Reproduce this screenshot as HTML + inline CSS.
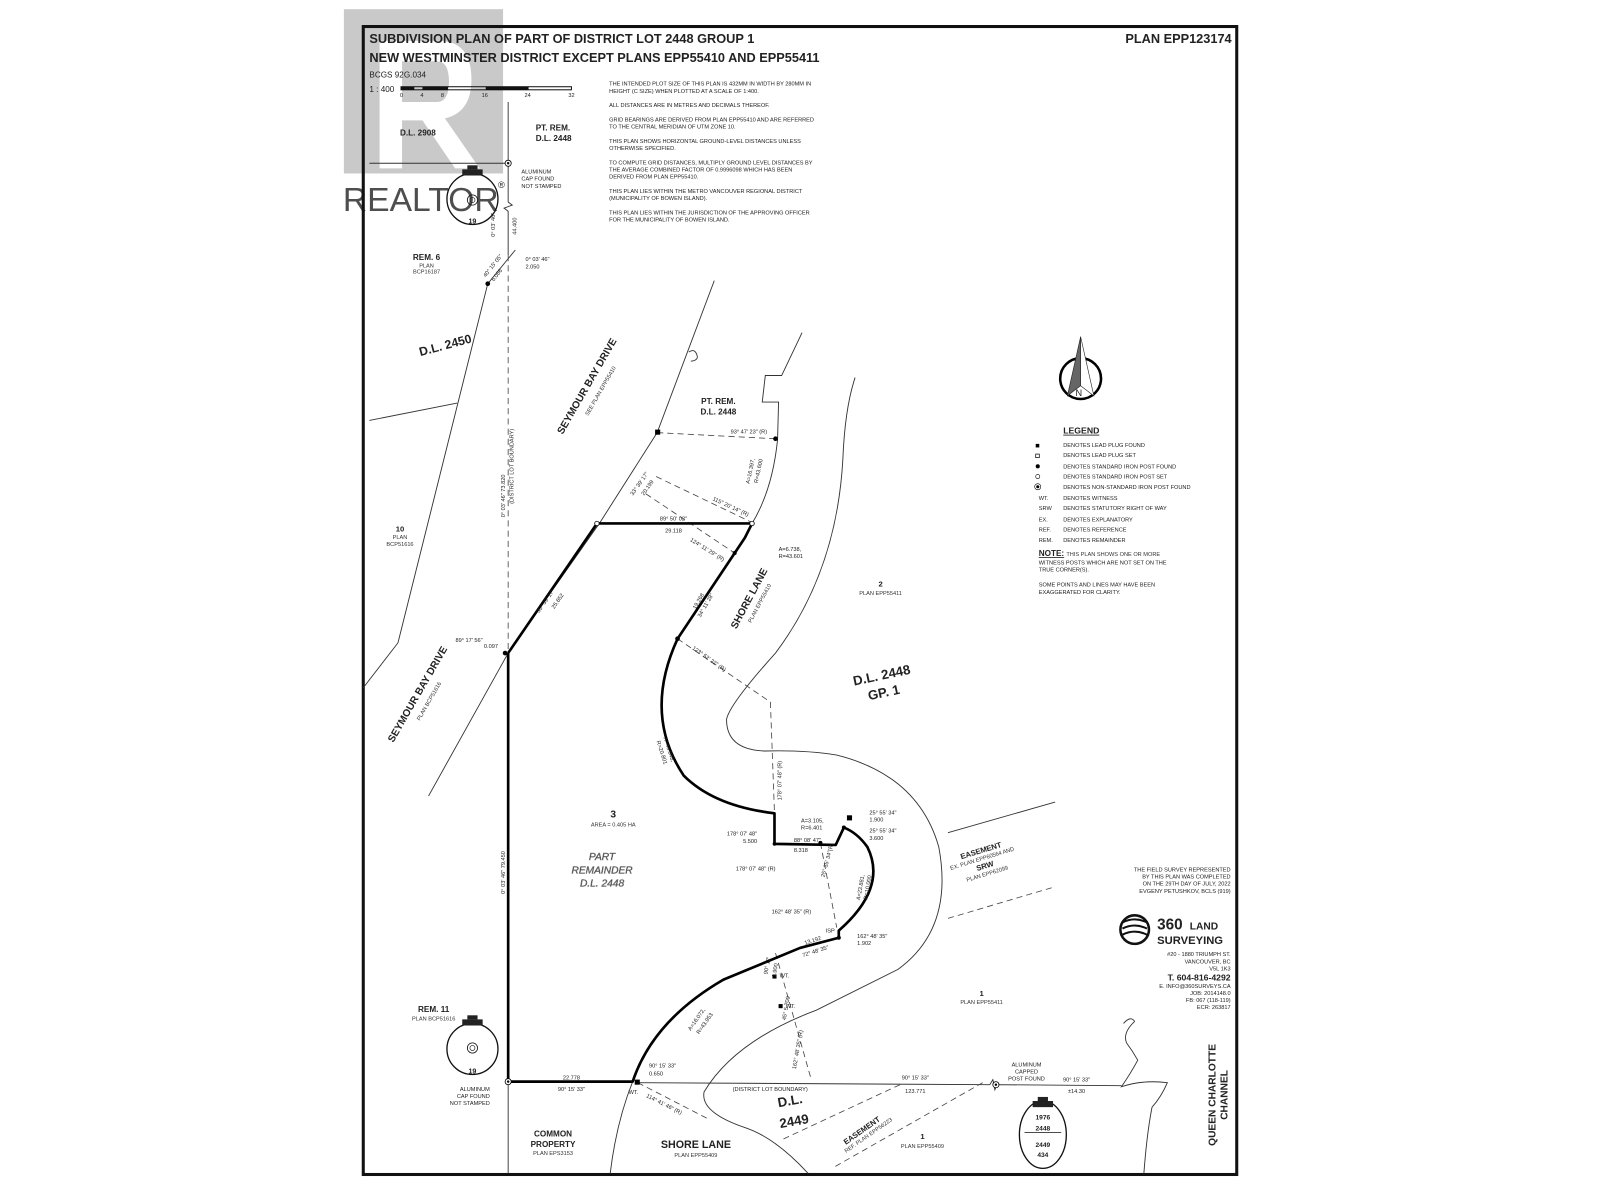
<!DOCTYPE html>
<html><head><meta charset="utf-8"><style>
html,body{margin:0;padding:0;background:#fff;}
svg{display:block;}
text{font-family:"Liberation Sans",sans-serif;fill:#222;}
.s{font-size:5.5px;fill:#333;}
.m{font-size:6.5px;fill:#333;}
.b{font-weight:bold;}
</style></head><body>
<svg width="1600" height="1200" viewBox="0 0 1568 1176" xmlns="http://www.w3.org/2000/svg">
<rect width="1568" height="1176" fill="#fff"/>
<!-- watermark -->
<g opacity="0.45">
<rect x="337" y="9" width="156" height="161" fill="#8a8a8a"/>
<path d="M372 40 H430 Q462 40 462 78 Q462 110 436 116 L470 165 H446 L414 118 H394 V165 H372 Z M394 60 V100 H428 Q440 100 440 80 Q440 60 428 60 Z" fill="#fff"/>
</g>
<text x="336" y="207" font-size="33" fill="#9a9a9a" opacity="0.8">REALTOR</text>
<text x="488" y="184" font-size="9" fill="#9a9a9a">®</text>

<!-- frame -->
<rect x="356" y="26" width="856" height="1125" fill="none" stroke="#111" stroke-width="3"/>
<text x="362" y="42" font-size="12.5" class="b">SUBDIVISION PLAN OF PART OF DISTRICT LOT 2448 GROUP 1</text>
<text x="362" y="61" font-size="12.5" class="b">NEW WESTMINSTER DISTRICT EXCEPT PLANS EPP55410 AND EPP55411</text>
<text x="1207" y="42" font-size="12.5" class="b" text-anchor="end">PLAN EPP123174</text>
<text x="362" y="76" font-size="8" fill="#555">BCGS 92G.034</text>
<text x="362" y="90" font-size="8" fill="#555">1 : 400</text>
<g stroke="#111" fill="none">
<rect x="393" y="85" width="167" height="3" stroke-width="1"/>
<path d="M393 86.5H406M414 86.5H439M476 86.5H518" stroke-width="3"/>
</g>
<g class="s" font-size="5">
<text x="392" y="95">0</text><text x="412" y="95">4</text><text x="432" y="95">8</text><text x="472" y="95">16</text><text x="514" y="95">24</text><text x="557" y="95">32</text>
</g>
<g class="s">
<text x="597" y="84">THE INTENDED PLOT SIZE OF THIS PLAN IS 432MM IN WIDTH BY 280MM IN</text>
<text x="597" y="91">HEIGHT (C SIZE) WHEN PLOTTED AT A SCALE OF 1:400.</text>
<text x="597" y="105">ALL DISTANCES ARE IN METRES AND DECIMALS THEREOF.</text>
<text x="597" y="119">GRID BEARINGS ARE DERIVED FROM PLAN EPP55410 AND ARE REFERRED</text>
<text x="597" y="126">TO THE CENTRAL MERIDIAN OF UTM ZONE 10.</text>
<text x="597" y="140">THIS PLAN SHOWS HORIZONTAL GROUND-LEVEL DISTANCES UNLESS</text>
<text x="597" y="147">OTHERWISE SPECIFIED.</text>
<text x="597" y="161">TO COMPUTE GRID DISTANCES, MULTIPLY GROUND LEVEL DISTANCES BY</text>
<text x="597" y="168">THE AVERAGE COMBINED FACTOR OF 0.9996098 WHICH HAS BEEN</text>
<text x="597" y="175">DERIVED FROM PLAN EPP55410.</text>
<text x="597" y="189">THIS PLAN LIES WITHIN THE METRO VANCOUVER REGIONAL DISTRICT</text>
<text x="597" y="196">(MUNICIPALITY OF BOWEN ISLAND).</text>
<text x="597" y="210">THIS PLAN LIES WITHIN THE JURISDICTION OF THE APPROVING OFFICER</text>
<text x="597" y="217">FOR THE MUNICIPALITY OF BOWEN ISLAND.</text>
</g>

<!-- thin lines -->
<g fill="none" stroke="#333" stroke-width="0.9">
<path d="M362 160H498"/>
<path d="M498 100V198 l4 3 -8 3 4 3 V250"/>
<path d="M505 245 L478 278 L390 630 L356 674"/>
<path d="M362 412 L448 395"/>
<path d="M700 275 L644 424 L588 512 L498 640 L420 780"/>
<path d="M675 345 q6 -4 8 3 q2 5 -6 6"/>
<path d="M786 326 L766 368 L750 368 L747 394 L763 394 L762 431 Q757 480 737 513"/>
<path d="M838 370 Q828 400 826 450 Q820 560 760 640 Q715 690 712 705 Q712 735 750 736 Q790 735 820 740 Q900 760 920 830 Q935 910 880 950 Q830 975 800 990 Q720 1020 690 1070 Q686 1090 730 1105 Q760 1115 792 1150"/>
<path d="M929 816 L1034 786"/>
<path d="M620 1060 Q604 1100 598 1150"/>
<path d="M625 1061 L970 1063 l3 -5 l2 10 l2 -5 L1099 1064"/>
<path d="M498 1060 V1150"/>
<path d="M1112 1001 Q1100 1012 1104 1022 Q1110 1030 1115 1039 Q1108 1052 1099 1065 Q1120 1058 1144 1061 Q1138 1075 1129 1085 Q1124 1110 1121 1150"/>
<path d="M1101 1003 Q1108 995 1112 1001"/>
</g>
<!-- dashed -->
<g fill="none" stroke="#444" stroke-width="0.8" stroke-dasharray="6 4">
<path d="M498 250 V640"/>
<path d="M644 424 L760 430"/>
<path d="M643 467 L737 512"/>
<path d="M633 484 L720 542"/>
<path d="M664 626 L755 688 L759 797"/>
<path d="M804 826 L820 909"/>
<path d="M760 934 L795 1058"/>
<path d="M625 1061 L693 1096"/>
<path d="M882 1063 L766 1117"/>
<path d="M963 1061 L817 1144"/>
<path d="M929 900 L1034 869"/>
</g>
<!-- thick boundary -->
<g fill="none" stroke="#000" stroke-width="2.6" stroke-linejoin="round">
<path d="M498 640 V1060 H620 Q640 1000 709 960 L784 929 L822 919 L822 912 Q870 870 850 830 Q840 816 827 811 L819 828 L759 827 L759 797 Q700 790 670 760 Q630 700 664 626 L730 527 L737 513 H585 L498 640"/>
</g>
<!-- markers -->
<g fill="#000">
<circle cx="478" cy="278" r="2.3"/><circle cx="760" cy="430" r="2.3"/><circle cx="664" cy="626" r="2.3"/>
<circle cx="720" cy="542" r="2"/><circle cx="495" cy="640" r="2.3"/><circle cx="804" cy="826" r="2"/>
<circle cx="827" cy="811" r="2"/><circle cx="822" cy="919" r="2"/><circle cx="759" cy="827" r="1.8"/>
<rect x="642" y="421" width="5" height="5"/><rect x="830" y="799" width="5" height="5"/>
<rect x="622" y="1058" width="5" height="5"/><rect x="757" y="955" width="4" height="4"/><rect x="763" y="984" width="4" height="4"/>
</g>
<circle cx="498" cy="160" r="3" fill="#fff" stroke="#000" stroke-width="0.8"/><circle cx="498" cy="160" r="1.2"/>
<circle cx="498" cy="1060" r="3" fill="#fff" stroke="#000" stroke-width="0.8"/><circle cx="498" cy="1060" r="1.2"/>
<circle cx="976" cy="1063" r="3" fill="#fff" stroke="#000" stroke-width="0.8"/><circle cx="976" cy="1063" r="1.2"/>
<circle cx="585" cy="513" r="2.2" fill="#fff" stroke="#000" stroke-width="0.8"/>
<circle cx="737" cy="513" r="2.2" fill="#fff" stroke="#000" stroke-width="0.8"/>

<!-- monuments -->
<g fill="none" stroke="#111" stroke-width="1.3">
<circle cx="463" cy="195" r="25"/><circle cx="463" cy="196" r="5" stroke-width="0.8"/><circle cx="463" cy="196" r="2.5" stroke-width="0.6"/>
<circle cx="463" cy="1028" r="25"/><circle cx="463" cy="1027" r="5" stroke-width="0.8"/><circle cx="463" cy="1027" r="2.5" stroke-width="0.6"/>
<ellipse cx="1022" cy="1112" rx="23" ry="33"/>
<path d="M1004 1110 H1040" stroke-width="0.8"/>
</g>
<g fill="#222">
<rect x="453" y="166" width="20" height="6"/><rect x="458" y="162" width="10" height="4"/>
<rect x="453" y="999" width="20" height="6"/><rect x="458" y="995" width="10" height="4"/>
<rect x="1012" y="1079" width="20" height="6"/><rect x="1017" y="1075" width="10" height="4"/>
</g>
<text x="463" y="219" font-size="7" class="b" text-anchor="middle">19</text>
<text x="463" y="1052" font-size="7" class="b" text-anchor="middle">19</text>
<g font-size="6.5" class="b" text-anchor="middle"><text x="1022" y="1097">1976</text><text x="1022" y="1108">2448</text><text x="1022" y="1124">2449</text><text x="1022" y="1134">434</text></g>

<!-- north arrow -->
<circle cx="1059" cy="371" r="20" fill="none" stroke="#000" stroke-width="2.5"/>
<path d="M1059 330 L1046 388 L1059 378 Z" fill="#666" stroke="#222" stroke-width="0.6"/>
<path d="M1059 330 L1072 388 L1059 378 Z" fill="#fff" stroke="#222" stroke-width="0.6"/>
<text x="1054" y="388" font-size="9" fill="#444">N</text>

<!-- legend -->
<text x="1042" y="425" font-size="8.5" class="b" text-decoration="underline">LEGEND</text>
<rect x="1015" y="435" width="3.5" height="3.5" fill="#000"/>
<rect x="1015" y="445" width="3.5" height="3.5" fill="none" stroke="#000" stroke-width="0.7"/>
<circle cx="1017" cy="457" r="2" fill="#000"/>
<circle cx="1017" cy="467" r="2" fill="none" stroke="#000" stroke-width="0.6"/>
<circle cx="1017" cy="477" r="3" fill="none" stroke="#000" stroke-width="0.6"/><circle cx="1017" cy="477" r="1.5"/>
<g class="s">
<text x="1042" y="438">DENOTES LEAD PLUG FOUND</text>
<text x="1042" y="448">DENOTES LEAD PLUG SET</text>
<text x="1042" y="459">DENOTES STANDARD IRON POST FOUND</text>
<text x="1042" y="469">DENOTES STANDARD IRON POST SET</text>
<text x="1042" y="479">DENOTES NON-STANDARD IRON POST FOUND</text>
<text x="1018" y="490">WT.</text><text x="1042" y="490">DENOTES WITNESS</text>
<text x="1018" y="500">SRW</text><text x="1042" y="500">DENOTES STATUTORY RIGHT OF WAY</text>
<text x="1018" y="511">EX.</text><text x="1042" y="511">DENOTES EXPLANATORY</text>
<text x="1018" y="521">REF.</text><text x="1042" y="521">DENOTES REFERENCE</text>
<text x="1018" y="531">REM.</text><text x="1042" y="531">DENOTES REMAINDER</text>
<text x="1018" y="553">WITNESS POSTS WHICH ARE NOT SET ON THE</text>
<text x="1018" y="560">TRUE CORNER(S).</text>
<text x="1018" y="575">SOME POINTS AND LINES MAY HAVE BEEN</text>
<text x="1018" y="582">EXAGGERATED FOR CLARITY.</text>
</g>
<text x="1018" y="545" font-size="8" class="b" text-decoration="underline">NOTE:</text>
<text x="1045" y="545" class="s">THIS PLAN SHOWS ONE OR MORE</text>

<!-- surveyor block -->
<g class="s" text-anchor="end">
<text x="1206" y="854">THE FIELD SURVEY REPRESENTED</text>
<text x="1206" y="861">BY THIS PLAN WAS COMPLETED</text>
<text x="1206" y="868">ON THE 29TH DAY OF JULY, 2022</text>
<text x="1206" y="875">EVGENY PETUSHKOV, BCLS (919)</text>
<text x="1206" y="937">#20 - 1880 TRIUMPH ST.</text>
<text x="1206" y="944">VANCOUVER, BC</text>
<text x="1206" y="951">V5L 1K3</text>
<text x="1206" y="968">E. INFO@360SURVEYS.CA</text>
<text x="1206" y="975">JOB: 2014148.0</text>
<text x="1206" y="982">FB: 067 (118-119)</text>
<text x="1206" y="989">ECR: 263817</text>
</g>
<text x="1206" y="961" font-size="8.5" class="b" text-anchor="end">T. 604-816-4292</text>
<g>
<circle cx="1112" cy="911" r="14" fill="none" stroke="#111" stroke-width="2.5"/>
<path d="M1100 910 q12 -6 24 0 M1100 916 q12 -6 24 0 M1100 904 q12 -6 24 0" stroke="#111" stroke-width="2" fill="none"/>
<text x="1134" y="911" font-size="15" class="b">360</text>
<text x="1166" y="911" font-size="10" class="b">LAND</text>
<text x="1134" y="925" font-size="11" class="b">SURVEYING</text>
</g>

<!-- big labels -->
<text x="525" y="128" font-size="8" class="b">PT. REM.</text>
<text x="525" y="138" font-size="8" class="b">D.L. 2448</text>
<text x="392" y="133" font-size="8" class="b">D.L. 2908</text>
<g class="s"><text x="511" y="170">ALUMINUM</text><text x="511" y="177">CAP FOUND</text><text x="511" y="184">NOT STAMPED</text></g>
<text x="418" y="255" font-size="8" class="b" text-anchor="middle">REM. 6</text>
<text x="418" y="262" class="s" text-anchor="middle">PLAN</text>
<text x="418" y="268" class="s" text-anchor="middle">BCP16187</text>
<text x="412" y="349" font-size="12" class="b" transform="rotate(-15 412 349)">D.L. 2450</text>
<text x="392" y="521" font-size="7.5" class="b" text-anchor="middle">10</text>
<text x="392" y="528" class="s" text-anchor="middle">PLAN</text>
<text x="392" y="535" class="s" text-anchor="middle">BCP51616</text>
<text x="578" y="380" font-size="10" class="b" text-anchor="middle" transform="rotate(-60 578 380)">SEYMOUR BAY DRIVE</text>
<text x="590" y="384" class="s" text-anchor="middle" transform="rotate(-60 590 384)">SEE PLAN EPP55410</text>
<text x="412" y="682" font-size="10" class="b" text-anchor="middle" transform="rotate(-60 412 682)">SEYMOUR BAY DRIVE</text>
<text x="422" y="688" class="s" text-anchor="middle" transform="rotate(-60 422 688)">PLAN BCP51616</text>
<text x="704" y="396" font-size="8" class="b" text-anchor="middle">PT. REM.</text>
<text x="704" y="406" font-size="8" class="b" text-anchor="middle">D.L. 2448</text>
<text x="737" y="588" font-size="10" class="b" text-anchor="middle" transform="rotate(-62 737 588)">SHORE LANE</text>
<text x="746" y="592" class="s" text-anchor="middle" transform="rotate(-62 746 592)">PLAN EPP55410</text>
<text x="863" y="575" font-size="7.5" class="b" text-anchor="middle">2</text>
<text x="863" y="583" class="s" text-anchor="middle">PLAN EPP55411</text>
<text x="865" y="666" font-size="13" class="b" text-anchor="middle" transform="rotate(-12 865 666)">D.L. 2448</text>
<text x="867" y="683" font-size="13" class="b" text-anchor="middle" transform="rotate(-12 867 683)">GP. 1</text>
<text x="601" y="801" font-size="10" class="b" text-anchor="middle">3</text>
<text x="601" y="810" class="s" text-anchor="middle">AREA = 0.405 HA</text>
<g font-size="10" font-style="italic" fill="#fff" stroke="#888" stroke-width="0.5" text-anchor="middle">
<text x="590" y="843">PART</text><text x="590" y="856">REMAINDER</text><text x="590" y="869">D.L. 2448</text>
</g>
<text x="962" y="836" font-size="7.5" class="b" text-anchor="middle" transform="rotate(-17 962 836)">EASEMENT</text>
<text x="963" y="843" class="s" text-anchor="middle" transform="rotate(-17 963 843)">EX. PLAN EPP60564 AND</text>
<text x="966" y="851" font-size="7.5" class="b" text-anchor="middle" transform="rotate(-17 966 851)">SRW</text>
<text x="968" y="858" class="s" text-anchor="middle" transform="rotate(-17 968 858)">PLAN EPP62099</text>
<text x="962" y="976" font-size="7.5" class="b" text-anchor="middle">1</text>
<text x="962" y="984" class="s" text-anchor="middle">PLAN EPP55411</text>
<text x="425" y="992" font-size="8" class="b" text-anchor="middle">REM. 11</text>
<text x="425" y="1000" class="s" text-anchor="middle">PLAN BCP51616</text>
<g class="s" text-anchor="end"><text x="480" y="1069">ALUMINUM</text><text x="480" y="1076">CAP FOUND</text><text x="480" y="1083">NOT STAMPED</text></g>
<text x="542" y="1114" font-size="8" class="b" text-anchor="middle">COMMON</text>
<text x="542" y="1124" font-size="8" class="b" text-anchor="middle">PROPERTY</text>
<text x="542" y="1132" class="s" text-anchor="middle">PLAN EPS3153</text>
<text x="682" y="1125" font-size="10.5" class="b" text-anchor="middle">SHORE LANE</text>
<text x="682" y="1134" class="s" text-anchor="middle">PLAN EPP55409</text>
<text x="775" y="1083" font-size="13" class="b" text-anchor="middle" transform="rotate(-10 775 1083)">D.L.</text>
<text x="779" y="1103" font-size="13" class="b" text-anchor="middle" transform="rotate(-10 779 1103)">2449</text>
<text x="846" y="1110" font-size="7.5" class="b" text-anchor="middle" transform="rotate(-35 846 1110)">EASEMENT</text>
<text x="852" y="1114" class="s" text-anchor="middle" transform="rotate(-35 852 1114)">REF. PLAN EPP56223</text>
<text x="904" y="1116" font-size="7.5" class="b" text-anchor="middle">1</text>
<text x="904" y="1125" class="s" text-anchor="middle">PLAN EPP55409</text>
<g class="s" text-anchor="middle"><text x="1006" y="1045">ALUMINUM</text><text x="1006" y="1052">CAPPED</text><text x="1006" y="1059">POST FOUND</text></g>
<text x="1191" y="1073" font-size="10" class="b" text-anchor="middle" transform="rotate(-90 1191 1073)">QUEEN CHARLOTTE</text>
<text x="1203" y="1073" font-size="10" class="b" text-anchor="middle" transform="rotate(-90 1203 1073)">CHANNEL</text>

<!-- measurement labels -->
<g class="s">
<text x="515" y="256">0° 03' 46"</text><text x="515" y="263">2.050</text>
<text x="485" y="232" transform="rotate(-90 485 232)">0° 03' 46"</text>
<text x="506" y="230" transform="rotate(-90 506 230)">44.400</text>
<text x="476" y="272" transform="rotate(-52 476 272)">40° 15' 05"</text>
<text x="484" y="276" transform="rotate(-52 484 276)">6.086</text>
<text x="495" y="486" transform="rotate(-90 495 486)" text-anchor="middle">0° 03' 46"    73.820</text>
<text x="503" y="457" transform="rotate(-90 503 457)" text-anchor="middle">(DISTRICT LOT BOUNDARY)</text>
<text x="473" y="629" text-anchor="end">89° 17' 56"</text><text x="488" y="635" text-anchor="end">0.097</text>
<text x="536" y="590" transform="rotate(-55 536 590)" text-anchor="middle">33° 39' 17"</text>
<text x="548" y="590" transform="rotate(-55 548 590)" text-anchor="middle">25.652</text>
<text x="628" y="475" transform="rotate(-55 628 475)" text-anchor="middle">33° 39' 17"</text>
<text x="636" y="479" transform="rotate(-55 636 479)" text-anchor="middle">20.199</text>
<text x="716" y="425">93° 47' 23" (R)</text>
<text x="698" y="490" transform="rotate(25 698 490)">115° 20' 14" (R)</text>
<text x="660" y="510" text-anchor="middle">89° 50' 02"</text>
<text x="660" y="522" text-anchor="middle">29.118</text>
<text x="676" y="530" transform="rotate(32 676 530)">124° 11' 29" (R)</text>
<text x="737" y="462" transform="rotate(-78 737 462)" text-anchor="middle">A=16.397,</text>
<text x="745" y="462" transform="rotate(-78 745 462)" text-anchor="middle">R=43.600</text>
<text x="763" y="540">A=6.738,</text><text x="763" y="547">R=43.601</text>
<text x="686" y="590" transform="rotate(-60 686 590)" text-anchor="middle">19.268</text>
<text x="693" y="594" transform="rotate(-60 693 594)" text-anchor="middle">34° 11' 28"</text>
<text x="678" y="636" transform="rotate(35 678 636)">123° 52' 22" (R)</text>
<text x="654" y="735" transform="rotate(72 654 735)" text-anchor="middle">A=45.848,</text>
<text x="647" y="738" transform="rotate(72 647 738)" text-anchor="middle">R=20.801</text>
<text x="766" y="765" transform="rotate(-90 766 765)" text-anchor="middle">178° 07' 48" (R)</text>
<text x="742" y="819" text-anchor="end">178° 07' 48"</text><text x="742" y="826" text-anchor="end">5.500</text>
<text x="778" y="825">88° 08' 47"</text><text x="778" y="835">8.318</text>
<text x="785" y="806">A=3.105,</text><text x="785" y="813">R=6.401</text>
<text x="852" y="798">25° 55' 34"</text><text x="852" y="805">1.900</text>
<text x="852" y="816">25° 55' 34"</text><text x="852" y="823">3.600</text>
<text x="760" y="853" text-anchor="end">178° 07' 48" (R)</text>
<text x="808" y="860" transform="rotate(-75 808 860)">25° 55' 34"(R)</text>
<text x="845" y="870" transform="rotate(-80 845 870)" text-anchor="middle">A=23.881,</text>
<text x="852" y="870" transform="rotate(-80 852 870)" text-anchor="middle">R=10.000</text>
<text x="795" y="895" text-anchor="end">162° 48' 35" (R)</text>
<text x="818" y="914" text-anchor="end">ISP</text>
<text x="840" y="919">162° 48' 35"</text><text x="840" y="926">1.902</text>
<text x="789" y="926" transform="rotate(-18 789 926)">13.192</text>
<text x="787" y="938" transform="rotate(-18 787 938)">72° 48' 35"</text>
<text x="684" y="1000" transform="rotate(-55 684 1000)" text-anchor="middle">A=16.072,</text>
<text x="692" y="1004" transform="rotate(-55 692 1004)" text-anchor="middle">R=43.953</text>
<text x="764" y="958">WT.</text><text x="770" y="988">WT.</text>
<text x="752" y="955" transform="rotate(-80 752 955)">90° 12'</text>
<text x="760" y="958" transform="rotate(-80 760 958)">1.900</text>
<text x="770" y="1000" transform="rotate(-80 770 1000)">45°   5.700</text>
<text x="780" y="1048" transform="rotate(-80 780 1048)">162° 48' 35" (R)</text>
<text x="636" y="1046">90° 15' 33"</text><text x="636" y="1054">0.650</text>
<text x="560" y="1058" text-anchor="middle">22.778</text>
<text x="560" y="1069" text-anchor="middle">90° 15' 33"</text>
<text x="616" y="1072">WT.</text>
<text x="633" y="1075" transform="rotate(27 633 1075)">114° 41' 46" (R)</text>
<text x="718" y="1069">(DISTRICT LOT BOUNDARY)</text>
<text x="897" y="1058" text-anchor="middle">90° 15' 33"</text>
<text x="897" y="1071" text-anchor="middle">123.771</text>
<text x="1055" y="1060" text-anchor="middle">90° 15' 33"</text>
<text x="1055" y="1071" text-anchor="middle">±14.30</text>
<text x="495" y="855" transform="rotate(-90 495 855)" text-anchor="middle">0° 03' 46"       79.450</text>
</g>
</svg>
</body></html>
